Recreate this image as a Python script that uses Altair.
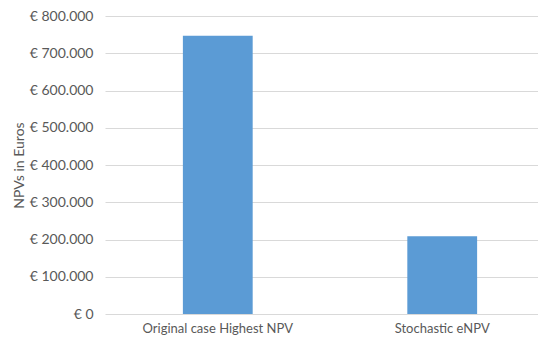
import altair as alt
import pandas as pd

categories = ["Original case Highest NPV", "Stochastic eNPV"]
npv_values = [747000, 209000]
y_ticks = [0, 100000, 200000, 300000, 400000, 500000, 600000, 700000, 800000]

df = pd.DataFrame({"case": categories, "npv": npv_values})

FONT = "Lato"
TXT = "#595959"

chart = alt.Chart(df).mark_bar(color="#5B9BD5").encode(
    x=alt.X(
        "case:N",
        sort=categories,
        title=None,
        scale=alt.Scale(range=[0, 450], paddingInner=0.689, paddingOuter=0.347),
        axis=alt.Axis(
            labelAngle=0, domain=False, ticks=False, labelPadding=8,
            labelFont=FONT, labelFontSize=13, labelColor=TXT,
        ),
    ),
    y=alt.Y(
        "npv:Q",
        title="NPVs in Euros",
        scale=alt.Scale(domain=[0, 800000], nice=False),
        axis=alt.Axis(
            values=y_ticks, domain=False, ticks=False, labelPadding=12,
            labelExpr="datum.value == 0 ? '€ 0' : '€ ' + format(datum.value / 1000, '.0f') + '.000'",
            labelFont=FONT, labelFontSize=14, labelColor=TXT,
            titleFont=FONT, titleFontSize=14, titleColor=TXT, titleFontWeight="normal",
            titlePadding=3, gridColor="#D9D9D9", gridWidth=1,
        ),
    ),
).properties(
    width=433,
    height=298,
    autosize=alt.AutoSizeParams(type="none"),
    padding={"left": 97, "top": 8, "right": 0, "bottom": 23},
).configure_view(stroke=None)

chart.save("out.html", embed_options={"renderer": "svg", "actions": False})
